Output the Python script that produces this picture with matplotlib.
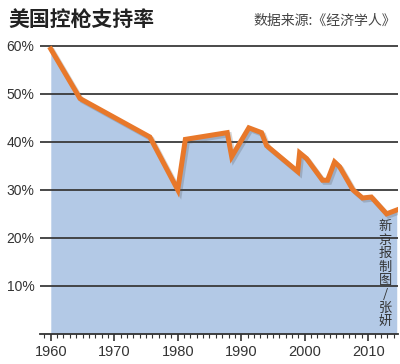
import matplotlib
matplotlib.use('Agg')
import matplotlib.pyplot as plt
import matplotlib.patheffects as pe
from matplotlib.ticker import MultipleLocator, FuncFormatter

plt.rcParams['font.family'] = ['Noto Sans CJK SC', 'DejaVu Sans']

# support for gun control (%)
years = [1960, 1964.6, 1975.6, 1980, 1981.2, 1987.8, 1988.5, 1991.2, 1993.2, 1994,
         1998.9, 1999.2, 2000.3, 2002.8, 2003.6, 2004.7, 2005.5, 2007.6, 2009.1,
         2010.5, 2012.9, 2014.5]
support = [59.3, 49, 41, 30, 40.5, 41.9, 36.9, 42.9, 41.9, 39.2,
           33.8, 37.7, 36.5, 32, 32, 35.8, 34.8, 30, 28.3,
           28.5, 25.0, 25.8]
y_ticks = [10, 20, 30, 40, 50, 60]
x_ticks = [1960, 1970, 1980, 1990, 2000, 2010]

title = '美国控枪支持率'
source = '数据来源:《经济学人》'
credit = '新京报制图/张妍'

fig = plt.figure(figsize=(4, 3.64), dpi=100)
ax = fig.add_axes([0.1, 0.0824, 0.895, 0.808])

ax.fill_between(years, support, 0, color='#b3c9e6', lw=0, zorder=1)
ax.plot(years, support, color='#e8782a', lw=3.6, solid_joinstyle='miter', zorder=4,
        path_effects=[pe.SimpleLineShadow(offset=(1.5, -1.5), alpha=0.25, shadow_color='#555555'),
                      pe.Normal()])

ax.set_xlim(1958.3, 2014.7)
ax.set_ylim(0, 61.2)

ax.set_yticks(y_ticks)
ax.yaxis.set_major_formatter(FuncFormatter(lambda v, p: f'{v:.0f}%'))
ax.set_axisbelow(False)
ax.yaxis.grid(True, color='#3a3a3a', lw=1.3, zorder=2.5)
ax.tick_params(axis='y', length=0, pad=4, labelsize=10, labelcolor='#333333')

ax.set_xticks(x_ticks)
ax.xaxis.set_minor_locator(MultipleLocator(1))
ax.tick_params(axis='x', which='major', length=5, width=1.2, color='#333333',
               labelsize=10.5, labelcolor='#333333', pad=3)
ax.tick_params(axis='x', which='minor', length=3, width=0.8, color='#333333')
for lab in ax.get_xticklabels() + ax.get_yticklabels():
    lab.set_fontfamily(['Liberation Sans', 'DejaVu Sans'])

for s in ['top', 'right', 'left']:
    ax.spines[s].set_visible(False)
ax.spines['bottom'].set_color('#333333')
ax.spines['bottom'].set_linewidth(1.3)

fig.text(0.02, 0.975, title, fontsize=15, fontweight='bold', color='#222222',
         ha='left', va='top')
fig.text(0.99, 0.963, source, fontsize=10, color='#444444', ha='right', va='top')
fig.text(0.963, 0.247, '\n'.join(credit), fontsize=9.5, color='#333333',
         ha='center', va='center', linespacing=1.05)

fig.savefig('out.png', dpi=100)
